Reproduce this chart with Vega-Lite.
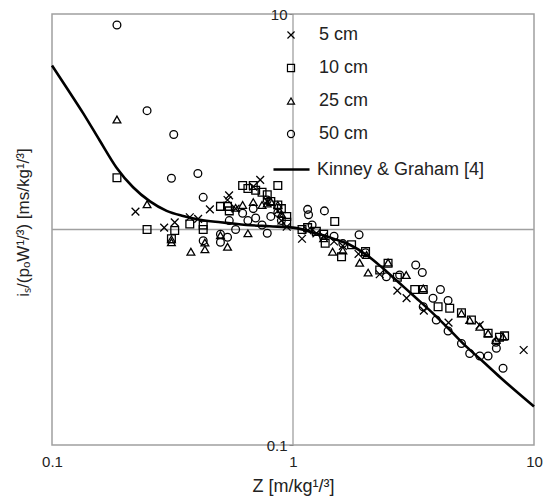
{
  "$schema": "https://vega.github.io/schema/vega-lite/v6.json",
  "width": 482,
  "height": 431,
  "autosize": {"type": "none"},
  "padding": {"left": 52, "top": 14, "right": 18, "bottom": 59},
  "background": "white",
  "config": {
    "view": {"stroke": "#a0a0a0", "strokeWidth": 1.5},
    "font": "Liberation Sans",
    "axis": {"labelFont": "Liberation Sans", "titleFont": "Liberation Sans", "labelColor": "#222", "titleColor": "#222", "titleFontWeight": "normal"},
    "legend": {"labelFont": "Liberation Sans", "labelColor": "#222", "labelLimit": 400}
  },
  "datasets": {
    "pts": [
      {"s":"5 cm","z":0.222,"i":1.21},{"s":"5 cm","z":0.292,"i":1.02},{"s":"5 cm","z":0.323,"i":1.08},{"s":"5 cm","z":0.373,"i":1.14},{"s":"5 cm","z":0.404,"i":1.12},{"s":"5 cm","z":0.452,"i":1.24},{"s":"5 cm","z":0.535,"i":1.37},{"s":"5 cm","z":0.543,"i":1.44},{"s":"5 cm","z":0.578,"i":1.25},{"s":"5 cm","z":0.731,"i":1.70},{"s":"5 cm","z":0.684,"i":1.58},{"s":"5 cm","z":0.782,"i":1.35},{"s":"5 cm","z":0.865,"i":1.22},{"s":"5 cm","z":0.895,"i":1.10},{"s":"5 cm","z":0.942,"i":1.03},{"s":"5 cm","z":1.09,"i":0.906},{"s":"5 cm","z":1.15,"i":0.99},{"s":"5 cm","z":1.25,"i":0.96},{"s":"5 cm","z":1.34,"i":0.93},{"s":"5 cm","z":1.48,"i":0.88},{"s":"5 cm","z":1.61,"i":0.84},{"s":"5 cm","z":1.87,"i":0.77},{"s":"5 cm","z":2.29,"i":0.62},{"s":"5 cm","z":2.71,"i":0.52},{"s":"5 cm","z":2.96,"i":0.48},{"s":"5 cm","z":3.49,"i":0.42},{"s":"5 cm","z":4.42,"i":0.37},{"s":"5 cm","z":5.95,"i":0.36},{"s":"5 cm","z":9.06,"i":0.276},
      {"s":"10 cm","z":0.186,"i":1.74},{"s":"10 cm","z":0.248,"i":1.00},{"s":"10 cm","z":0.313,"i":0.906},{"s":"10 cm","z":0.323,"i":0.99},{"s":"10 cm","z":0.373,"i":1.06},{"s":"10 cm","z":0.424,"i":1.00},{"s":"10 cm","z":0.424,"i":1.05},{"s":"10 cm","z":0.500,"i":1.28},{"s":"10 cm","z":0.535,"i":1.28},{"s":"10 cm","z":0.544,"i":1.22},{"s":"10 cm","z":0.618,"i":1.60},{"s":"10 cm","z":0.650,"i":1.55},{"s":"10 cm","z":0.684,"i":1.60},{"s":"10 cm","z":0.700,"i":1.52},{"s":"10 cm","z":0.744,"i":1.49},{"s":"10 cm","z":0.782,"i":1.45},{"s":"10 cm","z":0.809,"i":1.35},{"s":"10 cm","z":0.865,"i":1.60},{"s":"10 cm","z":0.865,"i":1.30},{"s":"10 cm","z":0.895,"i":1.25},{"s":"10 cm","z":0.942,"i":1.15},{"s":"10 cm","z":0.942,"i":1.08},{"s":"10 cm","z":1.09,"i":1.00},{"s":"10 cm","z":1.15,"i":1.02},{"s":"10 cm","z":1.25,"i":0.98},{"s":"10 cm","z":1.34,"i":0.95},{"s":"10 cm","z":1.36,"i":0.863},{"s":"10 cm","z":1.49,"i":1.09},{"s":"10 cm","z":1.59,"i":0.748},{"s":"10 cm","z":1.75,"i":0.85},{"s":"10 cm","z":2.00,"i":0.79},{"s":"10 cm","z":2.29,"i":0.649},{"s":"10 cm","z":2.48,"i":0.697},{"s":"10 cm","z":2.71,"i":0.60},{"s":"10 cm","z":3.20,"i":0.527},{"s":"10 cm","z":3.47,"i":0.527},{"s":"10 cm","z":4.00,"i":0.438},{"s":"10 cm","z":4.47,"i":0.431},{"s":"10 cm","z":5.00,"i":0.411},{"s":"10 cm","z":5.50,"i":0.380},{"s":"10 cm","z":6.45,"i":0.330},{"s":"10 cm","z":7.19,"i":0.316},{"s":"10 cm","z":7.55,"i":0.321},
      {"s":"25 cm","z":0.186,"i":3.24},{"s":"25 cm","z":0.248,"i":1.31},{"s":"25 cm","z":0.313,"i":0.873},{"s":"25 cm","z":0.313,"i":0.90},{"s":"25 cm","z":0.377,"i":0.789},{"s":"25 cm","z":0.431,"i":0.809},{"s":"25 cm","z":0.431,"i":0.87},{"s":"25 cm","z":0.500,"i":0.94},{"s":"25 cm","z":0.535,"i":0.832},{"s":"25 cm","z":0.578,"i":1.26},{"s":"25 cm","z":0.618,"i":1.30},{"s":"25 cm","z":0.650,"i":0.96},{"s":"25 cm","z":0.684,"i":1.34},{"s":"25 cm","z":0.744,"i":1.30},{"s":"25 cm","z":0.782,"i":1.32},{"s":"25 cm","z":0.809,"i":1.35},{"s":"25 cm","z":0.865,"i":1.30},{"s":"25 cm","z":0.895,"i":1.18},{"s":"25 cm","z":1.34,"i":0.91},{"s":"25 cm","z":1.46,"i":0.789},{"s":"25 cm","z":1.61,"i":0.80},{"s":"25 cm","z":1.89,"i":0.701},{"s":"25 cm","z":2.02,"i":0.762},{"s":"25 cm","z":2.05,"i":0.631},{"s":"25 cm","z":2.48,"i":0.703},{"s":"25 cm","z":2.95,"i":0.615},{"s":"25 cm","z":3.47,"i":0.533},{"s":"25 cm","z":5.00,"i":0.408},{"s":"25 cm","z":5.41,"i":0.380},{"s":"25 cm","z":5.96,"i":0.354},{"s":"25 cm","z":6.45,"i":0.330},{"s":"25 cm","z":6.96,"i":0.307},{"s":"25 cm","z":7.44,"i":0.318},
      {"s":"50 cm","z":0.186,"i":8.89},{"s":"50 cm","z":0.248,"i":3.56},{"s":"50 cm","z":0.320,"i":2.76},{"s":"50 cm","z":0.313,"i":1.73},{"s":"50 cm","z":0.403,"i":1.82},{"s":"50 cm","z":0.424,"i":1.41},{"s":"50 cm","z":0.424,"i":0.887},{"s":"50 cm","z":0.500,"i":0.873},{"s":"50 cm","z":0.500,"i":0.95},{"s":"50 cm","z":0.535,"i":0.92},{"s":"50 cm","z":0.544,"i":1.10},{"s":"50 cm","z":0.578,"i":1.00},{"s":"50 cm","z":0.618,"i":1.19},{"s":"50 cm","z":0.650,"i":1.10},{"s":"50 cm","z":0.684,"i":1.25},{"s":"50 cm","z":0.700,"i":1.13},{"s":"50 cm","z":0.744,"i":1.05},{"s":"50 cm","z":0.782,"i":1.37},{"s":"50 cm","z":0.782,"i":0.96},{"s":"50 cm","z":0.809,"i":1.15},{"s":"50 cm","z":0.865,"i":1.20},{"s":"50 cm","z":0.895,"i":1.10},{"s":"50 cm","z":1.15,"i":1.24},{"s":"50 cm","z":1.16,"i":1.17},{"s":"50 cm","z":1.35,"i":1.22},{"s":"50 cm","z":1.20,"i":1.05},{"s":"50 cm","z":1.48,"i":0.93},{"s":"50 cm","z":1.88,"i":0.946},{"s":"50 cm","z":1.61,"i":0.86},{"s":"50 cm","z":2.00,"i":0.78},{"s":"50 cm","z":2.44,"i":0.604},{"s":"50 cm","z":2.77,"i":0.615},{"s":"50 cm","z":3.23,"i":0.684},{"s":"50 cm","z":3.44,"i":0.632},{"s":"50 cm","z":3.47,"i":0.438},{"s":"50 cm","z":3.81,"i":0.480},{"s":"50 cm","z":4.09,"i":0.527},{"s":"50 cm","z":4.40,"i":0.468},{"s":"50 cm","z":3.93,"i":0.380},{"s":"50 cm","z":4.40,"i":0.338},{"s":"50 cm","z":5.00,"i":0.296},{"s":"50 cm","z":5.41,"i":0.266},{"s":"50 cm","z":5.96,"i":0.259},{"s":"50 cm","z":6.45,"i":0.259},{"s":"50 cm","z":6.98,"i":0.281},{"s":"50 cm","z":7.44,"i":0.227},{"s":"50 cm","z":6.96,"i":0.300}
    ],
    "kg": [
      {"n":"Kinney & Graham [4]","z":0.1,"i":5.77},{"n":"Kinney & Graham [4]","z":0.115,"i":4.55},{"n":"Kinney & Graham [4]","z":0.135,"i":3.45},{"n":"Kinney & Graham [4]","z":0.158,"i":2.58},{"n":"Kinney & Graham [4]","z":0.185,"i":1.94},{"n":"Kinney & Graham [4]","z":0.217,"i":1.57},{"n":"Kinney & Graham [4]","z":0.255,"i":1.35},{"n":"Kinney & Graham [4]","z":0.299,"i":1.22},{"n":"Kinney & Graham [4]","z":0.350,"i":1.155},{"n":"Kinney & Graham [4]","z":0.411,"i":1.11},{"n":"Kinney & Graham [4]","z":0.5,"i":1.08},{"n":"Kinney & Graham [4]","z":0.641,"i":1.05},{"n":"Kinney & Graham [4]","z":0.8,"i":1.035},{"n":"Kinney & Graham [4]","z":1.0,"i":1.02},{"n":"Kinney & Graham [4]","z":1.25,"i":0.96},{"n":"Kinney & Graham [4]","z":1.5,"i":0.90},{"n":"Kinney & Graham [4]","z":1.72,"i":0.85},{"n":"Kinney & Graham [4]","z":2.02,"i":0.762},{"n":"Kinney & Graham [4]","z":2.36,"i":0.661},{"n":"Kinney & Graham [4]","z":2.77,"i":0.563},{"n":"Kinney & Graham [4]","z":3.25,"i":0.480},{"n":"Kinney & Graham [4]","z":3.81,"i":0.408},{"n":"Kinney & Graham [4]","z":4.47,"i":0.342},{"n":"Kinney & Graham [4]","z":5.24,"i":0.286},{"n":"Kinney & Graham [4]","z":6.14,"i":0.244},{"n":"Kinney & Graham [4]","z":7.21,"i":0.207},{"n":"Kinney & Graham [4]","z":10,"i":0.151}
    ]
  },
  "layer": [
    {
      "data": {"values": [{"v": 1}]},
      "mark": {"type": "rule", "color": "#a0a0a0", "strokeWidth": 1.3},
      "encoding": {"x": {"field": "v", "type": "quantitative", "scale": {"type": "log", "domain": [0.1, 10]}}}
    },
    {
      "data": {"values": [{"v": 1}]},
      "mark": {"type": "rule", "color": "#a0a0a0", "strokeWidth": 1.3},
      "encoding": {"y": {"field": "v", "type": "quantitative", "scale": {"type": "log", "domain": [0.1, 10]}}}
    },
    {
      "data": {"name": "pts"},
      "mark": {"type": "point", "filled": false, "color": "black", "strokeWidth": 1.3, "size": 60, "opacity": 1},
      "encoding": {
        "x": {"field": "z", "type": "quantitative", "scale": {"type": "log", "domain": [0.1, 10]},
              "axis": {"values": [0.1, 1, 10], "format": "~g", "grid": false, "ticks": false, "domain": false, "labelFontSize": 15, "labelPadding": 9, "labelFlush": false,
                       "title": "Z [m/kg¹/³]", "titleFontSize": 18, "titlePadding": 8}},
        "y": {"field": "i", "type": "quantitative", "scale": {"type": "log", "domain": [0.1, 10]},
              "axis": {"values": [0.1, 10], "format": "~g", "grid": false, "offset": -241, "domain": false, "tickSize": 4, "tickColor": "#888", "labelFontSize": 15, "labelPadding": 2,
                       "title": "iₛ/(pₒW¹/³) [ms/kg¹/³]", "titleFontSize": 17, "titleX": -261, "titleY": 208}},
        "shape": {"field": "s", "type": "nominal",
                  "scale": {"domain": ["5 cm", "10 cm", "25 cm", "50 cm"], "range": ["M-1,-1L1,1M-1,1L1,-1", "square", "triangle-up", "circle"]},
                  "legend": {"title": null, "orient": "none", "legendX": 230, "legendY": 12, "padding": 0, "symbolSize": 50, "symbolStrokeColor": "black", "symbolStrokeWidth": 1.2, "labelFontSize": 18, "labelOffset": 19, "rowPadding": 15}}
      }
    },
    {
      "data": {"name": "kg"},
      "mark": {"type": "line", "strokeWidth": 2.6, "interpolate": "monotone"},
      "encoding": {
        "x": {"field": "z", "type": "quantitative"},
        "y": {"field": "i", "type": "quantitative"},
        "color": {"field": "n", "type": "nominal", "scale": {"range": ["black"]},
                  "legend": {"title": null, "orient": "none", "legendX": 220, "legendY": 136, "padding": 0, "symbolType": "stroke", "symbolSize": 1300, "symbolStrokeWidth": 2.6, "labelFontSize": 18, "labelOffset": 6, "labelLimit": 400}}
      }
    }
  ]
}
